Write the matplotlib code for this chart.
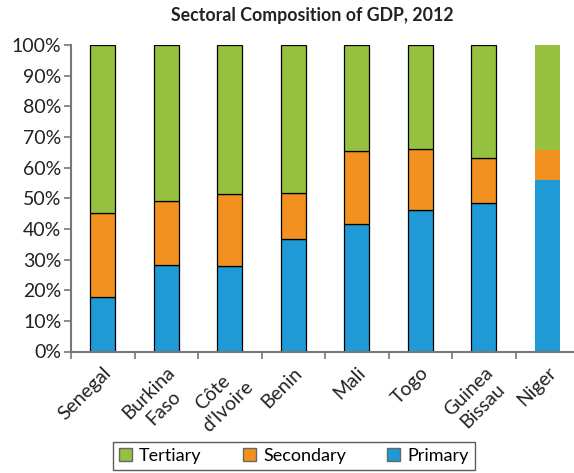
import matplotlib
matplotlib.use("Agg")
import matplotlib.pyplot as plt
import numpy as np
from matplotlib.patches import Patch

countries = ["Senegal", "Burkina\nFaso", "Côte\nd'Ivoire", "Benin", "Mali", "Togo", "Guinea\nBissau", "Niger"]
primary = [17.8, 28.3, 27.8, 36.7, 41.7, 46.3, 48.6, 56.1]
secondary = [27.3, 20.7, 23.5, 15.0, 23.6, 19.9, 14.5, 9.5]
tertiary = [100 - p - s for p, s in zip(primary, secondary)]

c_primary = "#209AD7"
c_secondary = "#F39120"
c_tertiary = "#95C13E"

plt.rcParams["font.family"] = ["Lato", "DejaVu Sans"]

fig = plt.figure(figsize=(5.74, 4.73), dpi=100)
ax = fig.add_axes([71 / 574, 121.5 / 473, 508 / 574, 306.5 / 473])

x = np.arange(len(countries))
w = 0.39
edges = ["black"] * (len(countries) - 1) + ["none"]
ax.bar(x, primary, w, color=c_primary, edgecolor=edges, linewidth=0.9)
ax.bar(x, secondary, w, bottom=primary, color=c_secondary, edgecolor=edges, linewidth=0.9)
bottom2 = [p + s for p, s in zip(primary, secondary)]
ax.bar(x, tertiary, w, bottom=bottom2, color=c_tertiary, edgecolor=edges, linewidth=0.9)

ax.set_xlim(-0.5, len(countries) - 0.5)
ax.set_ylim(0, 100)
ax.set_yticks(np.arange(0, 101, 10))
ax.set_yticklabels([f"{v}%" for v in range(0, 101, 10)], fontsize=14, color="#222222")

ax.set_xticks(x)
ax.set_xticklabels(countries, rotation=45, ha="right", va="top",
                   rotation_mode="anchor", fontsize=14, color="#222222",
                   linespacing=1.25, multialignment="center")
ax.set_xticks(np.arange(-0.5, len(countries)), minor=True)
ax.tick_params(axis="x", which="major", length=0, pad=9)
ax.tick_params(axis="x", which="minor", length=5, width=1.2, color="#777777")
ax.tick_params(axis="y", length=5, width=1.2, color="#777777", pad=2)

for s in ["top", "right"]:
    ax.spines[s].set_visible(False)
for s in ["left", "bottom"]:
    ax.spines[s].set_color("#777777")
    ax.spines[s].set_linewidth(1.5)

fig.text(312 / 574, 1 - 16 / 473, "Sectoral Composition of GDP, 2012",
         ha="center", va="center", fontsize=12.8, fontweight="bold", color="#222222")

handles = [Patch(facecolor=c_tertiary, edgecolor="#666666", label="Tertiary"),
           Patch(facecolor=c_secondary, edgecolor="#666666", label="Secondary"),
           Patch(facecolor=c_primary, edgecolor="#666666", label="Primary")]
leg = fig.legend(handles=handles, loc="center", bbox_to_anchor=(294 / 574, 1 - 456 / 473),
                 ncol=3, frameon=True, fancybox=False, fontsize=13,
                 handlelength=0.7, handleheight=0.7, columnspacing=2.3,
                 handletextpad=0.4, borderpad=0.35)
leg.get_frame().set_edgecolor("#333333")
leg.get_frame().set_linewidth(1.0)

fig.savefig("out.png", dpi=100)
